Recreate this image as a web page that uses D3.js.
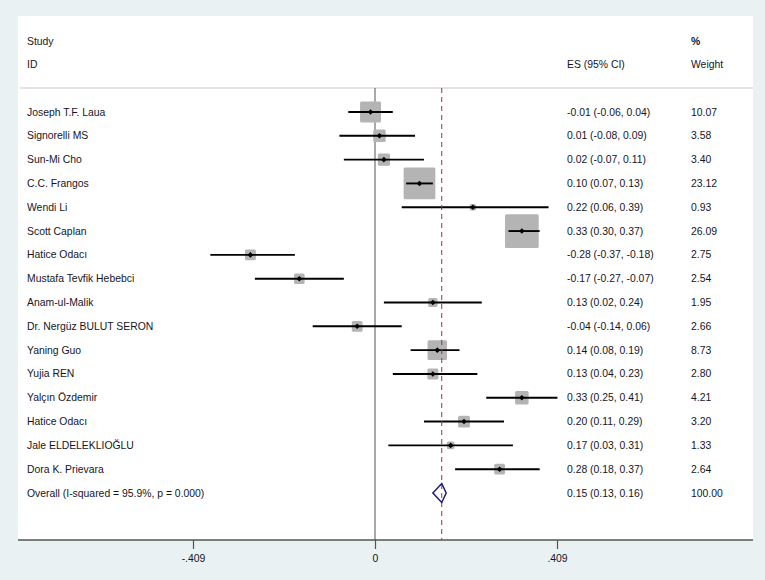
<!DOCTYPE html>
<html><head><meta charset="utf-8">
<script src="https://cdn.jsdelivr.net/npm/d3@7"></script>
<style>
html,body{margin:0;padding:0;background:#e9f1f3;}
svg{display:block;}
text{font-family:"Liberation Sans",Arial,sans-serif;font-size:10.4px;fill:#15151f;}
</style></head>
<body>
<svg id="c" width="765" height="580"></svg>
<script>
const studies = ["Joseph T.F. Laua","Signorelli MS","Sun-Mi Cho","C.C. Frangos","Wendi Li","Scott Caplan","Hatice Odacı","Mustafa Tevfik Hebebci","Anam-ul-Malik","Dr. Nergüz BULUT SERΟN","Yaning Guo","Yujia REN","Yalçın Özdemir","Hatice Odacı","Jale ELDELEKLIOĞLU","Dora K. Prievara"];
const es    = [-0.01,0.01,0.02,0.10,0.22,0.33,-0.28,-0.17,0.13,-0.04,0.14,0.13,0.33,0.20,0.17,0.28];
const lower = [-0.06,-0.08,-0.07,0.07,0.06,0.30,-0.37,-0.27,0.02,-0.14,0.08,0.04,0.25,0.11,0.03,0.18];
const upper = [0.04,0.09,0.11,0.13,0.39,0.37,-0.18,-0.07,0.24,0.06,0.19,0.23,0.41,0.29,0.31,0.37];
const weights = [10.07,3.58,3.40,23.12,0.93,26.09,2.75,2.54,1.95,2.66,8.73,2.80,4.21,3.20,1.33,2.64];
const esText = ["-0.01 (-0.06, 0.04)","0.01 (-0.08, 0.09)","0.02 (-0.07, 0.11)","0.10 (0.07, 0.13)","0.22 (0.06, 0.39)","0.33 (0.30, 0.37)","-0.28 (-0.37, -0.18)","-0.17 (-0.27, -0.07)","0.13 (0.02, 0.24)","-0.04 (-0.14, 0.06)","0.14 (0.08, 0.19)","0.13 (0.04, 0.23)","0.33 (0.25, 0.41)","0.20 (0.11, 0.29)","0.17 (0.03, 0.31)","0.28 (0.18, 0.37)"];
const weightText = ["10.07","3.58","3.40","23.12","0.93","26.09","2.75","2.54","1.95","2.66","8.73","2.80","4.21","3.20","1.33","2.64"];
const overallLabel = "Overall  (I-squared = 95.9%, p = 0.000)";
const overall = {es:0.15, lower:0.13, upper:0.16, text:"0.15 (0.13, 0.16)", weight:"100.00"};
const tickValues = [-0.409, 0, 0.409];
const tickLabels = ["-.409","0",".409"];

const svg = d3.select("#c");
const panel = {x0:18, y0:16, x1:753, y1:540};
svg.append("rect").attr("x",panel.x0).attr("y",panel.y0)
  .attr("width",panel.x1-panel.x0).attr("height",panel.y1-panel.y0).attr("fill","#fff");

const x = d3.scaleLinear().domain([-0.409,0.409]).range([193,557]);
const rows = d3.range(studies.length+1);
const y = d3.scalePoint().domain(rows).range([112,493]);
const size = d3.scaleSqrt().domain([0,1]).range([0,6.6]);

// headers
const colName = 27, colES = 567, colW = 691;
svg.append("text").attr("x",colName).attr("y",45).text("Study");
svg.append("text").attr("x",colName).attr("y",68).text("ID");
svg.append("text").attr("x",colES).attr("y",68).text("ES (95% CI)");
svg.append("text").attr("x",colW).attr("y",45).style("font-weight","bold").text("%");
svg.append("text").attr("x",colW).attr("y",68).text("Weight");

svg.append("line").attr("x1",panel.x0+2).attr("x2",panel.x1).attr("y1",88).attr("y2",88)
  .attr("stroke","#c4c8cc").attr("stroke-width",1.2);

// zero line
svg.append("line").attr("x1",x(0)).attr("x2",x(0)).attr("y1",88).attr("y2",panel.y1)
  .attr("stroke","#555").attr("stroke-width",1);

// squares
const g = svg.append("g");
g.selectAll("rect.w").data(rows.slice(0,studies.length)).join("rect")
  .attr("x",i=>x(es[i])-size(weights[i])/2)
  .attr("y",i=>y(i)-size(weights[i])/2)
  .attr("width",i=>size(weights[i]))
  .attr("height",i=>size(weights[i]))
  .attr("rx",1.5)
  .attr("fill","#b4b4b4");

// dashed overall line
svg.append("line").attr("x1",x(overall.es)).attr("x2",x(overall.es)).attr("y1",88).attr("y2",panel.y1)
  .attr("stroke","#a0303a").attr("stroke-width",1).attr("stroke-dasharray","5,4");

// CI lines
g.selectAll("line.ci").data(rows.slice(0,studies.length)).join("line")
  .attr("x1",i=>x(lower[i])).attr("x2",i=>x(upper[i]))
  .attr("y1",i=>y(i)).attr("y2",i=>y(i))
  .attr("stroke","#000").attr("stroke-width",1.9);
g.selectAll("path.pt").data(rows.slice(0,studies.length)).join("path")
  .attr("d",i=>{const cx=x(es[i]),cy=y(i),r=2.8;return `M${cx-r},${cy}L${cx},${cy-r}L${cx+r},${cy}L${cx},${cy+r}Z`;})
  .attr("fill","#000");

// overall diamond
const oy = y(studies.length), h = 9.5;
svg.append("path")
  .attr("d",`M${x(overall.lower)},${oy}L${x(overall.es)},${oy-h}L${x(overall.upper)},${oy}L${x(overall.es)},${oy+h}Z`)
  .attr("fill","none").attr("stroke","#1a1f7a").attr("stroke-width",1.5);

// text columns
const labels = studies.concat([overallLabel]);
const esCol = esText.concat([overall.text]);
const wCol = weightText.concat([overall.weight]);
svg.selectAll("text.n").data(rows).join("text").attr("x",colName).attr("y",i=>y(i)+3.5).text(i=>labels[i]);
svg.selectAll("text.e").data(rows).join("text").attr("x",colES).attr("y",i=>y(i)+3.5).text(i=>esCol[i]);
svg.selectAll("text.wt").data(rows).join("text").attr("x",colW).attr("y",i=>y(i)+3.5).text(i=>wCol[i]);

// axis
svg.append("line").attr("x1",panel.x0).attr("x2",panel.x1).attr("y1",panel.y1).attr("y2",panel.y1)
  .attr("stroke","#555").attr("stroke-width",1.5);
const axis = d3.axisBottom(x).tickValues(tickValues).tickSize(9).tickPadding(6)
  .tickFormat((d,i)=>tickLabels[i]);
const ag = svg.append("g").attr("transform",`translate(0,${panel.y1})`).call(axis);
ag.select(".domain").remove();
ag.selectAll(".tick line").attr("stroke","#555").attr("stroke-width",1.2);
ag.selectAll(".tick text").style("font-family","Liberation Sans, Arial, sans-serif").style("font-size","10.4px").attr("fill","#15151f");
</script>
</body></html>
